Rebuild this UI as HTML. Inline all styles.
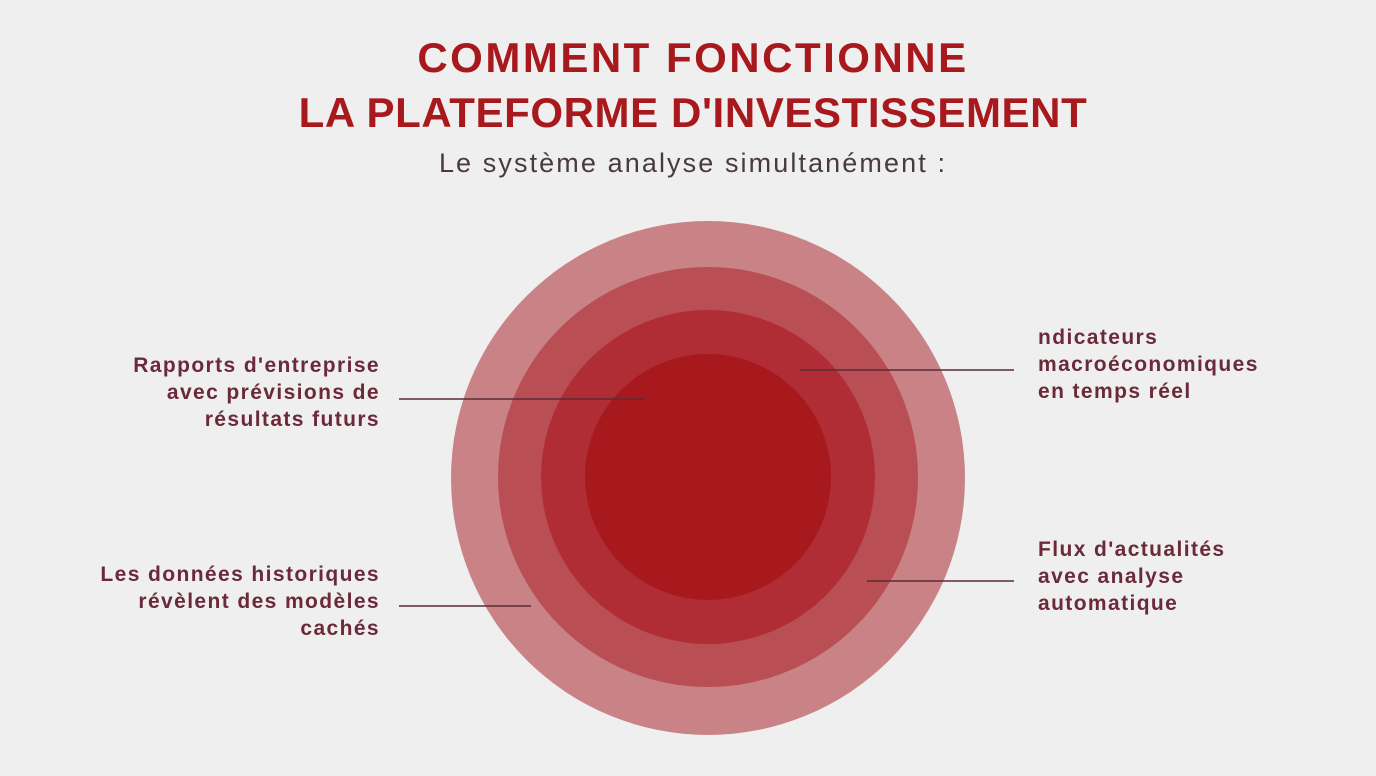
<!DOCTYPE html>
<html><head><meta charset="utf-8"><style>
body{margin:0;width:1376px;height:776px;background:#efefef;font-family:"Liberation Sans",sans-serif;position:relative;overflow:hidden}
.t{position:absolute;left:0;width:1386px;text-align:center;color:#a8191e;font-weight:bold;font-size:42px}
.s{position:absolute;left:0;width:1386px;text-align:center;color:#4a3a40;font-size:27px;letter-spacing:2.1px}
.l{position:absolute;color:#6b2a3a;font-weight:bold;font-size:21px;line-height:27px;letter-spacing:1.4px}
.r{text-align:right}
</style></head><body>
<div class="t" style="top:34px;letter-spacing:2.5px">COMMENT FONCTIONNE</div>
<div class="t" style="top:89px;letter-spacing:0.6px">LA PLATEFORME D'INVESTISSEMENT</div>
<div class="s" style="top:148px">Le système analyse simultanément :</div>
<svg width="1376" height="776" style="position:absolute;left:0;top:0">
<circle cx="708" cy="478" r="257" fill="#c98285"/>
<circle cx="708" cy="477" r="210" fill="#b94f54"/>
<circle cx="708" cy="477" r="167" fill="#b02d35"/>
<circle cx="708" cy="477" r="123" fill="#a8191e"/>
<g stroke="#5a2a3a" stroke-width="1.6">
<line x1="399" y1="399" x2="645" y2="399"/>
<line x1="800" y1="370" x2="1014" y2="370"/>
<line x1="867" y1="581" x2="1014" y2="581"/>
<line x1="399" y1="606" x2="531" y2="606"/>
</g></svg>
<div class="l r" style="right:996px;top:352px">Rapports d'entreprise<br>avec prévisions de<br>résultats futurs</div>
<div class="l r" style="right:996px;top:561px">Les données historiques<br>révèlent des modèles<br>cachés</div>
<div class="l" style="left:1038px;top:324px">ndicateurs<br>macroéconomiques<br>en temps réel</div>
<div class="l" style="left:1038px;top:536px">Flux d'actualités<br>avec analyse<br>automatique</div>
</body></html>
